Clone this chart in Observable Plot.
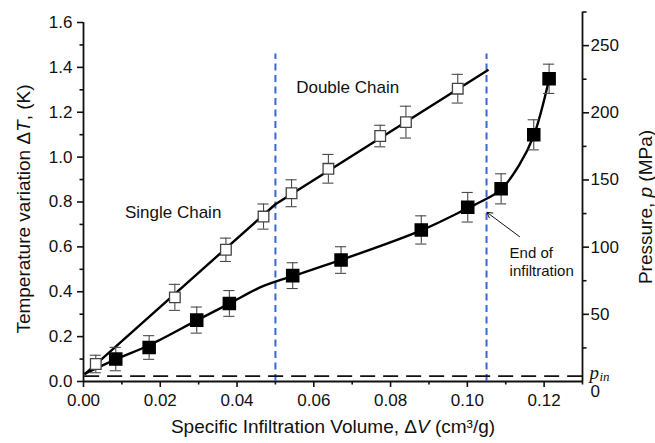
<!DOCTYPE html>
<html><head><meta charset="utf-8">
<script src="https://cdn.jsdelivr.net/npm/d3@7"></script>
<script src="https://cdn.jsdelivr.net/npm/@observablehq/plot@0.6"></script>
<style>body{margin:0;background:#fff}</style>
</head><body><div id="chart"></div>
<script>
// ---- data ----
// open squares: temperature variation (K), left axis
const openV   = [0.0032, 0.0238, 0.0371, 0.0469, 0.0542, 0.0638, 0.0773, 0.0840, 0.0975];
const openT   = [0.078, 0.375, 0.587, 0.735, 0.839, 0.948, 1.094, 1.156, 1.305];
const openErr = [0.039, 0.058, 0.052, 0.056, 0.060, 0.064, 0.048, 0.071, 0.064];
// filled squares: pressure (MPa), right axis
const filledV   = [0.0084, 0.0171, 0.0295, 0.0380, 0.0545, 0.0671, 0.0880, 0.1001, 0.1088, 0.1173, 0.1213];
const filledP   = [16.7, 25.3, 45.7, 58.1, 78.8, 90.4, 112.8, 129.7, 143.4, 183.6, 225.3];
const filledErr = [8.7, 8.8, 9.7, 9.6, 9.6, 9.9, 10.5, 11.0, 11.2, 11.2, 10.9];
// fitted lines
const chainFitV = [0.0005, 0.05, 0.1053];
const chainFitT = [0.035, 0.79, 1.387];
const pressFitV = [0.0005, 0.0084, 0.0171, 0.0295, 0.0380, 0.0460, 0.0545, 0.0671, 0.0880, 0.1001, 0.1050, 0.1088, 0.1135, 0.1173, 0.1213];
const pressFitP = [6, 16.5, 27, 45.5, 58, 70, 78.5, 90.5, 112.5, 129, 136, 143, 161, 183, 225];
// region boundaries and inlet pressure
const boundaryV = [0.05, 0.105];
const boundaryTopT = 1.46;
const pInlet = [4];
// ticks
const xMajor = [0, 0.02, 0.04, 0.06, 0.08, 0.10, 0.12];
const xMinor = [0.01, 0.03, 0.05, 0.07, 0.09, 0.11, 0.13];
const yMajor = [0, 0.2, 0.4, 0.6, 0.8, 1.0, 1.2, 1.4, 1.6];
const yMinor = [0.1, 0.3, 0.5, 0.7, 0.9, 1.1, 1.3, 1.5];
const pMajor = [50, 100, 150, 200, 250];
const pMinor = [25, 75, 125, 175, 225, 275];
const pZeroLabel = ["0"];
// annotations
const regionLabels = ["Single Chain", "Double Chain"];
const regionLabelV = [0.0108, 0.0554];
const regionLabelT = [0.754, 1.312];
const noteText = ["End of\ninfiltration"];
const noteV = [0.111];
const noteT = [0.535];
const arrowV = [0.1136, 0.1051];
const arrowP = [107.8, 125.9];

const xLabel = "Specific Infiltration Volume, ΔV (cm³/g)";
const yLabel = "Temperature variation ΔT, (K)";
const pLabel = "Pressure, p (MPa)";

// ---- scales ----
const xMax = 0.13, tMax = 1.6, pAxisTop = 275;
const K = 167; // MPa per K between right and left axes
const openData = openV.map((v, i) => ({v, t: openT[i], e: openErr[i]}));
const filledData = filledV.map((v, i) => ({v, t: filledP[i] / K, e: filledErr[i] / K}));
const chainFit = chainFitV.map((v, i) => ({v, t: chainFitT[i]}));
const pressFit = pressFitV.map((v, i) => ({v, t: pressFitP[i] / K}));
const capHalf = 0.00145;
const errStroke = "#4a4a4a";
const blue = "#3568d4";

function errorBars(data) {
  return [
    Plot.ruleX(data, {x: "v", y1: d => d.t - d.e, y2: d => d.t + d.e, stroke: errStroke, strokeWidth: 1.1}),
    Plot.ruleY(data, {y: d => d.t + d.e, x1: d => d.v - capHalf, x2: d => d.v + capHalf, stroke: errStroke, strokeWidth: 1.1}),
    Plot.ruleY(data, {y: d => d.t - d.e, x1: d => d.v - capHalf, x2: d => d.v + capHalf, stroke: errStroke, strokeWidth: 1.1})
  ];
}

const plot = Plot.plot({
  width: 655, height: 443,
  marginTop: 22, marginRight: 73, marginBottom: 62, marginLeft: 83,
  x: {domain: [0, xMax]},
  y: {domain: [0, tMax]},
  style: {fontFamily: "'Liberation Sans', Arial, sans-serif", fontSize: "17px", color: "#111", background: "white", overflow: "visible"},
  marks: [
    // axes
    Plot.axisX(xMajor, {tickSize: 6, tickPadding: 6, tickFormat: d3.format(".2f"), fontSize: 17, label: null, strokeWidth: 1.6}),
    Plot.axisX(xMinor, {tickSize: 3.5, tickFormat: () => "", label: null, strokeWidth: 1.6}),
    Plot.axisY(yMajor, {anchor: "left", tickSize: 6, tickPadding: 5, tickFormat: d3.format(".1f"), fontSize: 17, label: null, strokeWidth: 1.6}),
    Plot.axisY(yMinor, {anchor: "left", tickSize: 3.5, tickFormat: () => "", label: null, strokeWidth: 1.6}),
    Plot.axisY(pMajor, {anchor: "right", y: d => d / K, text: d => String(d), tickSize: 6, tickPadding: 2, fontSize: 17, label: null, strokeWidth: 1.6}),
    Plot.axisY(pMinor, {anchor: "right", y: d => d / K, text: () => "", tickSize: 3.5, label: null, strokeWidth: 1.6}),
    Plot.text(pZeroLabel, {x: xMax, y: 0, text: d => d, dx: 8, dy: 10, textAnchor: "start", fontSize: 17}),
    Plot.ruleX([0], {y1: 0, y2: tMax, strokeWidth: 1.8, stroke: "#111"}),
    Plot.ruleY([0], {x1: 0, x2: xMax, strokeWidth: 1.8, stroke: "#111"}),
    Plot.ruleX([xMax], {y1: 0, y2: pAxisTop / K, strokeWidth: 1.8, stroke: "#111"}),
    // axis labels
    Plot.text([yLabel], {frameAnchor: "left", textAnchor: "middle", dx: -60, dy: 7, rotate: -90, fontSize: 19, text: d => d}),
    Plot.text([pLabel], {frameAnchor: "right", textAnchor: "middle", dx: 63, dy: 5, rotate: -90, fontSize: 19, text: d => d}),
    Plot.text([xLabel], {frameAnchor: "bottom", textAnchor: "middle", dy: 51, fontSize: 19, text: d => d}),
    // reference lines
    Plot.ruleX(boundaryV, {x: d => d, y1: 0, y2: boundaryTopT, stroke: blue, strokeWidth: 2, strokeDasharray: "7,4.5"}),
    Plot.ruleY(pInlet, {y: d => d / K, x1: 0.0003, x2: xMax, stroke: "#111", strokeWidth: 1.8, strokeDasharray: "15,8"}),
    Plot.text(["p"], {x: xMax, y: pInlet[0] / K, text: d => d, dx: 7, dy: -3, textAnchor: "start", fontSize: 19, fontStyle: "italic", fontFamily: "'Liberation Serif', 'DejaVu Serif', serif"}),
    Plot.text(["in"], {x: xMax, y: pInlet[0] / K, text: d => d, dx: 17, dy: 1, textAnchor: "start", fontSize: 13, fontStyle: "italic", fontFamily: "'Liberation Serif', 'DejaVu Serif', serif"}),
    // fits
    Plot.line(chainFit, {x: "v", y: "t", stroke: "#000", strokeWidth: 2.4}),
    Plot.line(pressFit, {x: "v", y: "t", stroke: "#000", strokeWidth: 2.4, curve: "catmull-rom"}),
    // error bars + markers
    ...errorBars(openData),
    ...errorBars(filledData),
    Plot.dot(openData, {x: "v", y: "t", symbol: "square", r: 6, fill: "white", stroke: "#444", strokeWidth: 1.3}),
    Plot.dot(filledData, {x: "v", y: "t", symbol: "square", r: 6.8, fill: "#000", stroke: "#000"}),
    // annotations
    Plot.text(regionLabels, {x: (d, i) => regionLabelV[i], y: (d, i) => regionLabelT[i], text: d => d, textAnchor: "start", fontSize: 17}),
    Plot.text(noteText, {x: noteV, y: noteT, text: d => d, textAnchor: "start", fontSize: 15, lineHeight: 1.22}),
    Plot.arrow([0], {x1: arrowV[0], y1: arrowP[0] / K, x2: arrowV[1], y2: arrowP[1] / K, stroke: "#111", strokeWidth: 1, headLength: 9})
  ]
});

// italic symbols inside the axis labels
function rich(svg, full, parts) {
  svg.querySelectorAll("text").forEach(t => {
    if (t.textContent === full) {
      t.textContent = "";
      for (const [s, italic] of parts) {
        const ts = document.createElementNS("http://www.w3.org/2000/svg", "tspan");
        ts.textContent = s;
        if (italic) ts.setAttribute("font-style", "italic");
        t.appendChild(ts);
      }
    }
  });
}
rich(plot, xLabel, [["Specific Infiltration Volume, Δ", false], ["V", true], [" (cm³/g)", false]]);
rich(plot, yLabel, [["Temperature variation Δ", false], ["T", true], [", (K)", false]]);
rich(plot, pLabel, [["Pressure, ", false], ["p", true], [" (MPa)", false]]);

document.getElementById("chart").appendChild(plot);
</script>
</body></html>
